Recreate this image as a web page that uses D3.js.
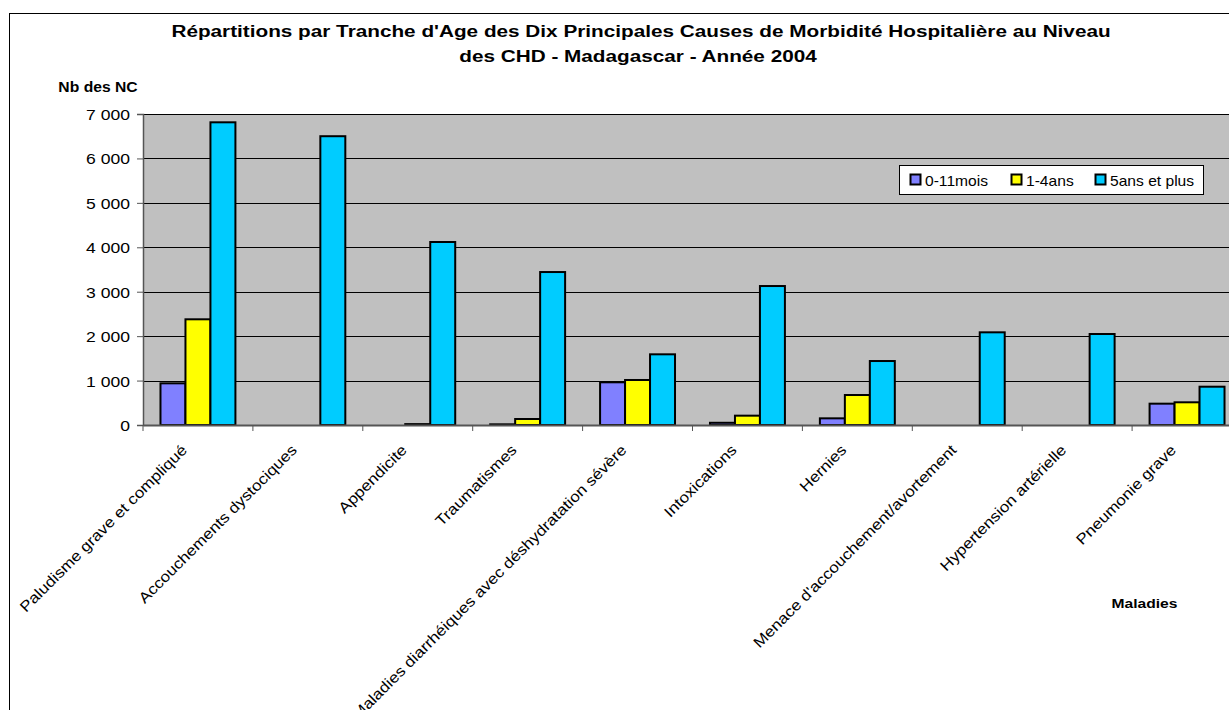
<!DOCTYPE html>
<html><head><meta charset="utf-8">
<script src="https://cdn.jsdelivr.net/npm/d3@7"></script>
<style>body{margin:0;background:#fff;} text{font-family:"Liberation Sans",Arial,sans-serif;}</style>
</head><body><svg id="c" width="1229" height="710"></svg>
<script>
const categories = ["Paludisme grave et compliqué","Accouchements dystociques","Appendicite","Traumatismes","Maladies diarrhéiques avec déshydratation sévère","Intoxications","Hernies","Menace d'accouchement/avortement","Hypertension artérielle","Pneumonie grave"];
const seriesNames = ["0-11mois","1-4ans","5ans et plus"];
const s0_11mois = [938, 0, 0, 15, 961, 50, 150, 0, 0, 480];
const s1_4ans = [2379, 0, 20, 135, 1013, 210, 675, 0, 0, 511];
const s5ans = [6813, 6500, 4119, 3443, 1591, 3128, 1440, 2086, 2048, 862];
const yTicks = [0,1000,2000,3000,4000,5000,6000,7000];
const colors = ["#8080ff","#ffff00","#00ccff"];
const series = [s0_11mois, s1_4ans, s5ans];

const svg = d3.select("#c");
const L = 143, R = 1242, T = 114, B = 425;
function stext(g, x, y, sx, str, size, anchor, bold){
  const t = g.append("text").attr("transform",`translate(${x},${y}) scale(${sx},1)`)
    .attr("text-anchor",anchor).attr("font-size",size).attr("fill","#000").text(str);
  if(bold) t.attr("font-weight","bold");
  return t;
}
// outer border
svg.append("rect").attr("x",9.5).attr("y",13.5).attr("width",1240).attr("height",720)
  .attr("fill","none").attr("stroke","#000").attr("stroke-width",1);

const x = d3.scaleBand().domain(categories).range([L,R]).paddingInner(0).paddingOuter(0);
const x1 = d3.scaleBand().domain(seriesNames).range([0,x.bandwidth()]).paddingInner(0).paddingOuter(0.7);
const y = d3.scaleLinear().domain([0,7000]).range([B,T]);

svg.append("rect").attr("x",L).attr("y",T).attr("width",R-L).attr("height",B-T).attr("fill","#c0c0c0");
svg.append("g").selectAll("line").data(yTicks.filter(d=>d>0)).join("line")
  .attr("x1",L).attr("x2",R).attr("y1",d=>Math.round(y(d))+0.5).attr("y2",d=>Math.round(y(d))+0.5)
  .attr("stroke","#000").attr("stroke-width",1);

// bars
seriesNames.forEach((s,i)=>{
  svg.append("g").selectAll("rect").data(categories).join("rect")
    .attr("x",d=>x(d)+x1(s)).attr("width",x1.bandwidth())
    .attr("y",(d,j)=>y(series[i][j])).attr("height",(d,j)=>B-y(series[i][j]))
    .attr("fill",colors[i]).attr("stroke","#000").attr("stroke-width",2);
});

// y axis
const ya = svg.append("g").attr("transform",`translate(${L},0)`)
  .call(d3.axisLeft(y).tickValues(yTicks).tickSize(6).tickPadding(6)
    .tickFormat(d=>d3.format(",")(d).replace(/,/g," ")));
ya.select(".domain").attr("stroke","#555").attr("stroke-width",1.5);
ya.selectAll(".tick line").attr("stroke","#555");
ya.selectAll(".tick text").attr("x",null).attr("dy",null)
  .attr("transform","translate(-13,5.5) scale(1.17,1)")
  .attr("font-size",15).attr("fill","#000").style("font-family","Liberation Sans, Arial, sans-serif");

// x axis
const xa = svg.append("g").attr("transform",`translate(0,${B})`)
  .call(d3.axisBottom(x).tickSize(0).tickFormat(""));
xa.select(".domain").attr("stroke","#555").attr("stroke-width",2);
svg.append("g").selectAll("line").data(d3.range(categories.length+1)).join("line")
  .attr("x1",i=>L+i*x.bandwidth()).attr("x2",i=>L+i*x.bandwidth())
  .attr("y1",B).attr("y2",B+6).attr("stroke","#555").attr("stroke-width",1);
svg.append("g").selectAll("text").data(categories).join("text")
  .attr("transform",d=>`translate(${x(d)+x.bandwidth()/2-10},${B+26}) rotate(-45) scale(1.14,1)`)
  .attr("text-anchor","end").attr("font-size",15).attr("fill","#000").text(d=>d);

// title
stext(svg, 641, 37, 1.22, "Répartitions par Tranche d'Age des Dix Principales Causes de Morbidité Hospitalière au Niveau", 17, "middle", true);
stext(svg, 638, 62, 1.22, "des CHD - Madagascar - Année 2004", 17, "middle", true);
stext(svg, 98, 92, 1.12, "Nb des NC", 14, "middle", true);
stext(svg, 1144.5, 607.5, 1.2, "Maladies", 13, "middle", true);

// legend
const lg = svg.append("g");
lg.append("rect").attr("x",899.5).attr("y",165.5).attr("width",304).attr("height",29).attr("fill","#fff").attr("stroke","#000").attr("stroke-width",1);
const lx = [910, 1011, 1095];
seriesNames.forEach((s,i)=>{
  lg.append("rect").attr("x",lx[i]+0.5).attr("y",174.5).attr("width",10).attr("height",10).attr("fill",colors[i]).attr("stroke","#000").attr("stroke-width",2);
  stext(lg, lx[i]+15, 185.5, 1.04, s, 15, "start", false);
});
</script></body></html>
